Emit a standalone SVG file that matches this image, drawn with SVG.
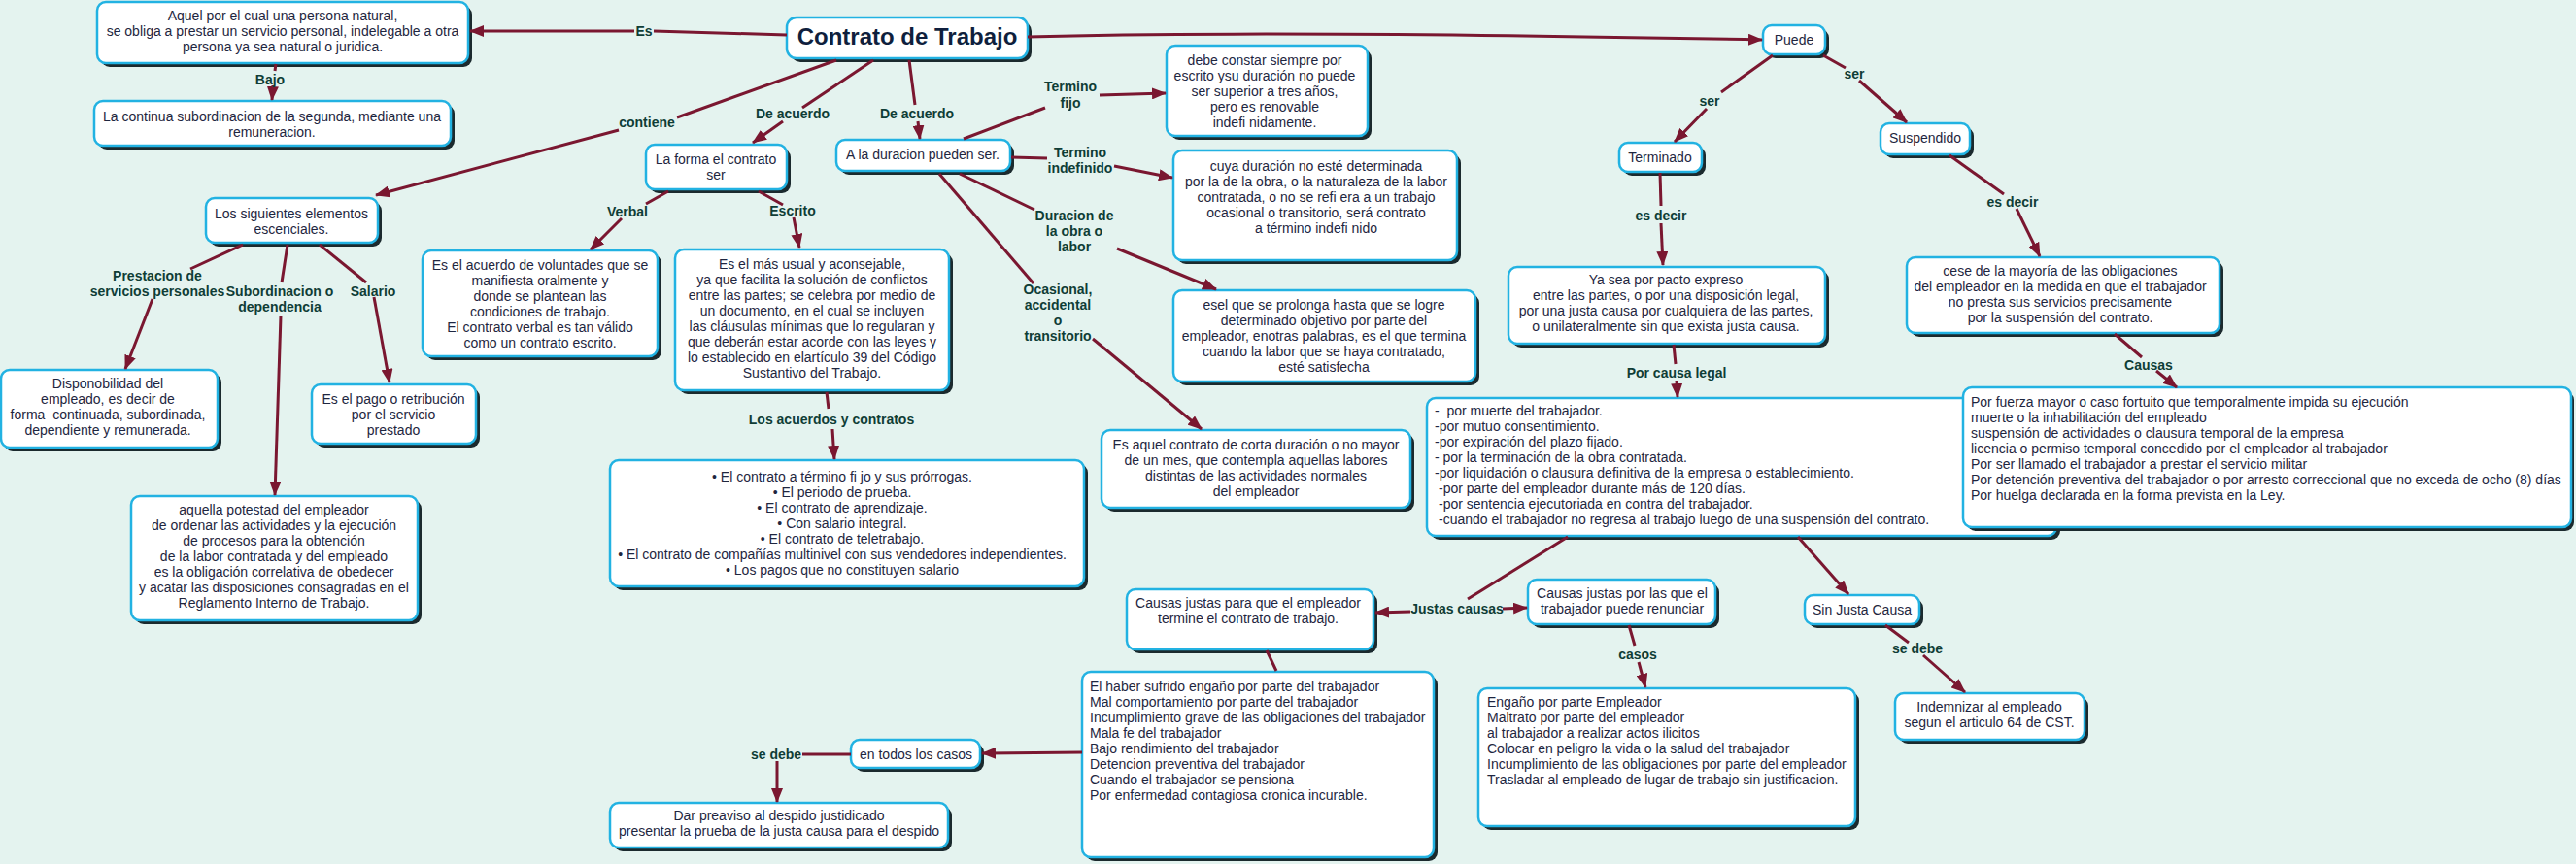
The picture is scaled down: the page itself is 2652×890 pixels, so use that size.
<svg xmlns="http://www.w3.org/2000/svg" width="2652" height="890" viewBox="0 0 2652 890">
<defs>
<marker id="ah" viewBox="0 0 15 12" refX="14" refY="6" markerWidth="15" markerHeight="12" markerUnits="userSpaceOnUse" orient="auto"><path d="M0,0 L15,6 L0,12 z" fill="#7a1730"/></marker>
</defs>
<style>
.sh{fill:#1b2a2e}
.bx{fill:#fff;stroke:#22b2e2;stroke-width:2.5}
.t{font-family:"Liberation Sans",Arial,sans-serif;font-size:14px;fill:#1e2640}
.c{text-anchor:middle}
.pre{white-space:pre}
.lb{font-family:"Liberation Sans",Arial,sans-serif;font-size:14px;font-weight:bold;fill:#0f3d36;text-anchor:middle}
.ln{fill:none;stroke:#7a1730;stroke-width:3}
.ar{marker-end:url(#ah)}
.title{font-family:"Liberation Sans",Arial,sans-serif;font-size:24px;font-weight:bold;fill:#0f1f3d;text-anchor:middle}
</style>
<rect x="0" y="0" width="2652" height="890" fill="#e4f3ef"/>

<g id="n_aquel"><rect class="sh" x="104" y="6" width="382" height="63" rx="9"/><rect class="bx" x="100" y="2" width="382" height="63" rx="9"/>
<text class="t c"><tspan x="291" y="21">Aquel por el cual una persona natural,</tspan><tspan x="291" y="37">se obliga a prestar un servicio personal, indelegable a otra</tspan><tspan x="291" y="53">persona ya sea natural o juridica.</tspan></text></g>

<g id="n_continua"><rect class="sh" x="101" y="108" width="367" height="46" rx="9"/><rect class="bx" x="97" y="104" width="367" height="46" rx="9"/>
<text class="t c"><tspan x="280" y="125">La continua subordinacion de la segunda, mediante una</tspan><tspan x="280" y="141">remuneracion.</tspan></text></g>

<g id="n_elementos"><rect class="sh" x="216" y="208" width="177" height="46" rx="9"/><rect class="bx" x="212" y="204" width="177" height="46" rx="9"/>
<text class="t c"><tspan x="300" y="225">Los siguientes elementos</tspan><tspan x="300" y="241">escenciales.</tspan></text></g>

<g id="n_dispon"><rect class="sh" x="4" y="385" width="224" height="80" rx="9"/><rect class="bx" x="1" y="381" width="223" height="80" rx="9"/>
<text class="t c"><tspan x="111" y="400">Disponobilidad del</tspan><tspan x="111" y="416">empleado, es decir de</tspan><tspan x="111" y="432" class="pre">forma  continuada, subordinada,</tspan><tspan x="111" y="448">dependiente y remunerada.</tspan></text></g>

<g id="n_pago"><rect class="sh" x="325" y="400" width="169" height="61" rx="9"/><rect class="bx" x="321" y="396" width="169" height="61" rx="9"/>
<text class="t c"><tspan x="405" y="416">Es el pago o retribución</tspan><tspan x="405" y="432">por el servicio</tspan><tspan x="405" y="448">prestado</tspan></text></g>

<g id="n_potestad"><rect class="sh" x="139" y="515" width="295" height="128" rx="9"/><rect class="bx" x="135" y="511" width="295" height="128" rx="9"/>
<text class="t c"><tspan x="282" y="530">aquella potestad del empleador</tspan><tspan x="282" y="546">de ordenar las actividades y la ejecución</tspan><tspan x="282" y="562">de procesos para la obtención</tspan><tspan x="282" y="578">de la labor contratada y del empleado</tspan><tspan x="282" y="594">es la obligación correlativa de obedecer</tspan><tspan x="282" y="610">y acatar las disposiciones consagradas en el</tspan><tspan x="282" y="626">Reglamento Interno de Trabajo.</tspan></text></g>

<g id="n_contrato"><rect class="sh" x="814" y="22" width="248" height="42" rx="10"/><rect class="bx" x="810" y="18" width="248" height="42" rx="10"/>
<text class="title" x="934" y="46">Contrato de Trabajo</text></g>

<g id="n_forma"><rect class="sh" x="669" y="153" width="145" height="46" rx="9"/><rect class="bx" x="665" y="149" width="145" height="46" rx="9"/>
<text class="t c"><tspan x="737" y="169">La forma el contrato</tspan><tspan x="737" y="185">ser</tspan></text></g>

<g id="n_verbal"><rect class="sh" x="439" y="262" width="242" height="109" rx="9"/><rect class="bx" x="435" y="258" width="242" height="109" rx="9"/>
<text class="t c"><tspan x="556" y="278">Es el acuerdo de voluntades que se</tspan><tspan x="556" y="294">manifiesta oralmente y</tspan><tspan x="556" y="310">donde se plantean las</tspan><tspan x="556" y="326">condiciones de trabajo.</tspan><tspan x="556" y="342">El contrato verbal es tan válido</tspan><tspan x="556" y="358">como un contrato escrito.</tspan></text></g>

<g id="n_escrito"><rect class="sh" x="699" y="261" width="282" height="145" rx="9"/><rect class="bx" x="695" y="257" width="282" height="145" rx="9"/>
<text class="t c"><tspan x="836" y="277">Es el más usual y aconsejable,</tspan><tspan x="836" y="293">ya que facilita la solución de conflictos</tspan><tspan x="836" y="309">entre las partes; se celebra por medio de</tspan><tspan x="836" y="325">un documento, en el cual se incluyen</tspan><tspan x="836" y="341">las cláusulas mínimas que lo regularan y</tspan><tspan x="836" y="357">que deberán estar acorde con las leyes y</tspan><tspan x="836" y="373">lo establecido en elartículo 39 del Código</tspan><tspan x="836" y="389">Sustantivo del Trabajo.</tspan></text></g>

<g id="n_acuerdos"><rect class="sh" x="632" y="478" width="488" height="130" rx="9"/><rect class="bx" x="628" y="474" width="488" height="130" rx="9"/>
<text class="t c"><tspan x="867" y="496">• El contrato a término fi jo y sus prórrogas.</tspan><tspan x="867" y="512">• El periodo de prueba.</tspan><tspan x="867" y="528">• El contrato de aprendizaje.</tspan><tspan x="867" y="544">• Con salario integral.</tspan><tspan x="867" y="560">• El contrato de teletrabajo.</tspan><tspan x="867" y="576">• El contrato de compañías multinivel con sus vendedores independientes.</tspan><tspan x="867" y="592">• Los pagos que no constituyen salario</tspan></text></g>

<g id="n_duracion"><rect class="sh" x="865" y="148" width="179" height="32" rx="9"/><rect class="bx" x="861" y="144" width="179" height="32" rx="9"/>
<text class="t c" x="950" y="164">A la duracion pueden ser.</text></g>

<g id="n_fijo"><rect class="sh" x="1205" y="51" width="207" height="93" rx="9"/><rect class="bx" x="1201" y="47" width="207" height="93" rx="9"/>
<text class="t c"><tspan x="1302" y="67">debe constar siempre por</tspan><tspan x="1302" y="83">escrito ysu duración no puede</tspan><tspan x="1302" y="99">ser superior a tres años,</tspan><tspan x="1302" y="115">pero es renovable</tspan><tspan x="1302" y="131">indefi nidamente.</tspan></text></g>

<g id="n_indef"><rect class="sh" x="1212" y="159" width="292" height="113" rx="9"/><rect class="bx" x="1208" y="155" width="292" height="113" rx="9"/>
<text class="t c"><tspan x="1355" y="176">cuya duración no esté determinada</tspan><tspan x="1355" y="192">por la de la obra, o la naturaleza de la labor</tspan><tspan x="1355" y="208">contratada, o no se refi era a un trabajo</tspan><tspan x="1355" y="224">ocasional o transitorio, será contrato</tspan><tspan x="1355" y="240">a término indefi nido</tspan></text></g>

<g id="n_obra"><rect class="sh" x="1212" y="303" width="311" height="94" rx="9"/><rect class="bx" x="1208" y="299" width="311" height="94" rx="9"/>
<text class="t c"><tspan x="1363" y="319">esel que se prolonga hasta que se logre</tspan><tspan x="1363" y="335">determinado objetivo por parte del</tspan><tspan x="1363" y="351">empleador, enotras palabras, es el que termina</tspan><tspan x="1363" y="367">cuando la labor que se haya contratado,</tspan><tspan x="1363" y="383">esté satisfecha</tspan></text></g>

<g id="n_ocasional"><rect class="sh" x="1138" y="447" width="318" height="80" rx="9"/><rect class="bx" x="1134" y="443" width="318" height="80" rx="9"/>
<text class="t c"><tspan x="1293" y="463">Es aquel contrato de corta duración o no mayor</tspan><tspan x="1293" y="479">de un mes, que contempla aquellas labores</tspan><tspan x="1293" y="495">distintas de las actividades normales</tspan><tspan x="1293" y="511">del empleador</tspan></text></g>

<g id="n_puede"><rect class="sh" x="1819" y="30" width="64" height="30" rx="9"/><rect class="bx" x="1815" y="26" width="64" height="30" rx="9"/>
<text class="t c" x="1847" y="46">Puede</text></g>

<g id="n_terminado"><rect class="sh" x="1671" y="151" width="85" height="30" rx="9"/><rect class="bx" x="1667" y="147" width="85" height="30" rx="9"/>
<text class="t c" x="1709" y="167">Terminado</text></g>

<g id="n_suspendido"><rect class="sh" x="1940" y="131" width="92" height="32" rx="9"/><rect class="bx" x="1936" y="127" width="92" height="32" rx="9"/>
<text class="t c" x="1982" y="147">Suspendido</text></g>

<g id="n_yasea"><rect class="sh" x="1557" y="279" width="326" height="79" rx="9"/><rect class="bx" x="1553" y="275" width="326" height="79" rx="9"/>
<text class="t c"><tspan x="1715" y="293">Ya sea por pacto expreso</tspan><tspan x="1715" y="309">entre las partes, o por una disposición legal,</tspan><tspan x="1715" y="325">por una justa causa por cualquiera de las partes,</tspan><tspan x="1715" y="341">o unilateralmente sin que exista justa causa.</tspan></text></g>

<g id="n_legal"><rect class="sh" x="1473" y="414" width="648" height="142" rx="9"/><rect class="bx" x="1469" y="410" width="648" height="142" rx="9"/>
<text class="t pre"><tspan x="1477" y="428">-  por muerte del trabajador.</tspan><tspan x="1477" y="444">-por mutuo consentimiento.</tspan><tspan x="1477" y="460">-por expiración del plazo fijado.</tspan><tspan x="1477" y="476">- por la terminación de la obra contratada.</tspan><tspan x="1477" y="492">-por liquidación o clausura definitiva de la empresa o establecimiento.</tspan><tspan x="1481" y="508">-por parte del empleador durante más de 120 días.</tspan><tspan x="1481" y="524">-por sentencia ejecutoriada en contra del trabajador.</tspan><tspan x="1481" y="540">-cuando el trabajador no regresa al trabajo luego de una suspensión del contrato.</tspan></text></g>

<g id="n_cese"><rect class="sh" x="1967" y="269" width="322" height="78" rx="9"/><rect class="bx" x="1963" y="265" width="322" height="78" rx="9"/>
<text class="t c"><tspan x="2121" y="284">cese de la mayoría de las obligaciones</tspan><tspan x="2121" y="300">del empleador en la medida en que el trabajador</tspan><tspan x="2121" y="316">no presta sus servicios precisamente</tspan><tspan x="2121" y="332">por la suspensión del contrato.</tspan></text></g>

<g id="n_fuerza"><rect class="sh" x="2025" y="403" width="625" height="144" rx="9"/><rect class="bx" x="2021" y="399" width="626" height="144" rx="9"/>
<text class="t"><tspan x="2029" y="419">Por fuerza mayor o caso fortuito que temporalmente impida su ejecución</tspan><tspan x="2029" y="435">muerte o la inhabilitación del empleado</tspan><tspan x="2029" y="451">suspensión de actividades o clausura temporal de la empresa</tspan><tspan x="2029" y="467">licencia o permiso temporal concedido por el empleador al trabajador</tspan><tspan x="2029" y="483">Por ser llamado el trabajador a prestar el servicio militar</tspan><tspan x="2029" y="499">Por detención preventiva del trabajador o por arresto correccional que no exceda de ocho (8) días</tspan><tspan x="2029" y="515">Por huelga declarada en la forma prevista en la Ley.</tspan></text></g>

<g id="n_empleador"><rect class="sh" x="1164" y="611" width="254" height="62" rx="9"/><rect class="bx" x="1160" y="607" width="254" height="62" rx="9"/>
<text class="t c"><tspan x="1285" y="626">Causas justas para que el empleador</tspan><tspan x="1285" y="642">termine el contrato de trabajo.</tspan></text></g>

<g id="n_renuncia"><rect class="sh" x="1577" y="601" width="193" height="46" rx="9"/><rect class="bx" x="1573" y="597" width="193" height="46" rx="9"/>
<text class="t c"><tspan x="1670" y="616">Causas justas por las que el</tspan><tspan x="1670" y="632">trabajador puede renunciar</tspan></text></g>

<g id="n_sinjusta"><rect class="sh" x="1862" y="617" width="118" height="30" rx="9"/><rect class="bx" x="1858" y="613" width="118" height="30" rx="9"/>
<text class="t c" x="1917" y="633">Sin Justa Causa</text></g>

<g id="n_haber"><rect class="sh" x="1118" y="696" width="362" height="191" rx="9"/><rect class="bx" x="1114" y="692" width="362" height="191" rx="9"/>
<text class="t"><tspan x="1122" y="712">El haber sufrido engaño por parte del trabajador</tspan><tspan x="1122" y="728">Mal comportamiento por parte del trabajador</tspan><tspan x="1122" y="744">Incumplimiento grave de las obligaciones del trabajador</tspan><tspan x="1122" y="760">Mala fe del trabajador</tspan><tspan x="1122" y="776">Bajo rendimiento del trabajador</tspan><tspan x="1122" y="792">Detencion preventiva del trabajador</tspan><tspan x="1122" y="808">Cuando el trabajador se pensiona</tspan><tspan x="1122" y="824">Por enfermedad contagiosa cronica incurable.</tspan></text></g>

<g id="n_engano"><rect class="sh" x="1526" y="713" width="388" height="142" rx="9"/><rect class="bx" x="1522" y="709" width="388" height="142" rx="9"/>
<text class="t"><tspan x="1531" y="728">Engaño por parte Empleador</tspan><tspan x="1531" y="744">Maltrato por parte del empleador</tspan><tspan x="1531" y="760">al trabajador a realizar actos ilicitos</tspan><tspan x="1531" y="776">Colocar en peligro la vida o la salud del trabajador</tspan><tspan x="1531" y="792">Incumplimiento de las obligaciones por parte del empleador</tspan><tspan x="1531" y="808">Trasladar al empleado de lugar de trabajo sin justificacion.</tspan></text></g>

<g id="n_indemnizar"><rect class="sh" x="1955" y="718" width="195" height="48" rx="9"/><rect class="bx" x="1951" y="714" width="195" height="48" rx="9"/>
<text class="t c"><tspan x="2048" y="733">Indemnizar al empleado</tspan><tspan x="2048" y="749">segun el articulo 64 de CST.</tspan></text></g>

<g id="n_todos"><rect class="sh" x="880" y="766" width="133" height="29" rx="9"/><rect class="bx" x="876" y="762" width="133" height="29" rx="9"/>
<text class="t c" x="943" y="782">en todos los casos</text></g>

<g id="n_preaviso"><rect class="sh" x="632" y="831" width="348" height="46" rx="9"/><rect class="bx" x="628" y="827" width="348" height="46" rx="9"/>
<text class="t c"><tspan x="802" y="845">Dar preaviso al despido justidicado</tspan><tspan x="802" y="861">presentar la prueba de la justa causa para el despido</tspan></text></g>

<g id="connectors">
<path class="ln" d="M810,36 L673,32"/><path class="ln ar" d="M653,32 L484,32"/>
<path class="ln" d="M284,66 L283,73"/><path class="ln ar" d="M281,88 L280,103"/>
<path class="ln" d="M861,62 L697,121"/><path class="ln ar" d="M637,134 L387,201"/>
<path class="ln" d="M899,62 L826,111"/><path class="ln ar" d="M806,125 L775,147"/>
<path class="ln" d="M936,62 L942,108"/><path class="ln ar" d="M945,125 L947,143"/>
<path class="ln" d="M250,252 L196,277"/><path class="ln ar" d="M157,308 L129,380"/>
<path class="ln" d="M296,252 L290,291"/><path class="ln ar" d="M289,325 L283,510"/>
<path class="ln" d="M329,252 L377,291"/><path class="ln ar" d="M385,306 L401,394"/>
<path class="ln" d="M688,197 L665,210"/><path class="ln ar" d="M640,225 L608,257"/>
<path class="ln" d="M781,197 L806,211"/><path class="ln ar" d="M817,224 L823,255"/>
<path class="ln" d="M851,404 L853,421"/><path class="ln ar" d="M857,442 L859,473"/>
<path class="ln" d="M992,143 L1076,111"/><path class="ln ar" d="M1132,98 L1200,96"/>
<path class="ln" d="M1041,162 L1078,163"/><path class="ln ar" d="M1147,171 L1207,183"/>
<path class="ln" d="M988,179 L1065,216"/><path class="ln ar" d="M1150,256 L1252,298"/>
<path class="ln" d="M967,179 L1064,292"/><path class="ln ar" d="M1125,349 L1237,442"/>
<path class="ln ar" d="M1058,38 Q1300,31 1814,41"/>
<path class="ln" d="M1825,57 L1772,95"/><path class="ln ar" d="M1757,112 L1724,146"/>
<path class="ln" d="M1877,57 L1900,70"/><path class="ln ar" d="M1914,83 L1963,126"/>
<path class="ln" d="M1709,178 L1710,212"/><path class="ln ar" d="M1710,230 L1712,273"/>
<path class="ln" d="M2007,160 L2063,200"/><path class="ln ar" d="M2076,215 L2100,264"/>
<path class="ln" d="M1723,355 L1725,375"/><path class="ln ar" d="M1726,392 L1727,409"/>
<path class="ln" d="M2177,344 L2205,368"/><path class="ln ar" d="M2220,382 L2241,399"/>
<path class="ln" d="M1614,553 L1511,617"/><path class="ln ar" d="M1452,630 L1416,631"/><path class="ln ar" d="M1547,627 L1572,626"/>
<path class="ln ar" d="M1851,553 L1903,612"/>
<path class="ln" d="M1677,644 L1683,665"/><path class="ln ar" d="M1687,682 L1694,708"/>
<path class="ln" d="M1941,644 L1965,662"/><path class="ln ar" d="M1980,675 L2023,713"/>
<path class="ln" d="M1304,670 L1314,691"/>
<path class="ln ar" d="M1114,775 L1011,776"/>
<path class="ln" d="M876,777 L826,777"/><path class="ln ar" d="M800,784 L800,826"/>
<text class="lb" x="663" y="37">Es</text>
<text class="lb" x="278" y="87">Bajo</text>
<text class="lb" x="666" y="131">contiene</text>
<text class="lb" x="816" y="122">De acuerdo</text>
<text class="lb" x="944" y="122">De acuerdo</text>
<text class="lb"><tspan x="162" y="289">Prestacion de</tspan><tspan x="162" y="305">servicios personales</tspan></text>
<text class="lb"><tspan x="288" y="305">Subordinacion o</tspan><tspan x="288" y="321">dependencia</tspan></text>
<text class="lb" x="384" y="305">Salario</text>
<text class="lb" x="646" y="223">Verbal</text>
<text class="lb" x="816" y="222">Escrito</text>
<text class="lb" x="856" y="437">Los acuerdos y contratos</text>
<text class="lb"><tspan x="1102" y="94">Termino</tspan><tspan x="1102" y="111">fijo</tspan></text>
<text class="lb"><tspan x="1112" y="162">Termino</tspan><tspan x="1112" y="178">indefinido</tspan></text>
<text class="lb"><tspan x="1106" y="227">Duracion de</tspan><tspan x="1106" y="243">la obra o</tspan><tspan x="1106" y="259">labor</tspan></text>
<text class="lb"><tspan x="1089" y="303">Ocasional,</tspan><tspan x="1089" y="319">accidental</tspan><tspan x="1089" y="335">o</tspan><tspan x="1089" y="351">transitorio</tspan></text>
<text class="lb" x="1760" y="109">ser</text>
<text class="lb" x="1909" y="81">ser</text>
<text class="lb" x="1710" y="227">es decir</text>
<text class="lb" x="2072" y="213">es decir</text>
<text class="lb" x="1726" y="389">Por causa legal</text>
<text class="lb" x="2212" y="381">Causas</text>
<text class="lb" x="1500" y="632">Justas causas</text>
<text class="lb" x="1686" y="679">casos</text>
<text class="lb" x="1974" y="673">se debe</text>
<text class="lb" x="799" y="782">se debe</text>
</g>
</svg>
